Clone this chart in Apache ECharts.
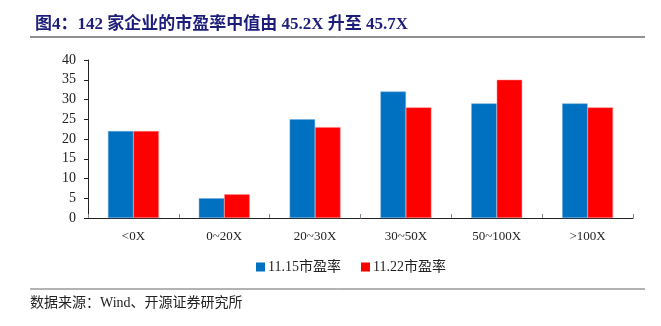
<!DOCTYPE html>
<html>
<head>
<meta charset="utf-8">
<script src="https://cdn.jsdelivr.net/npm/echarts@6/dist/echarts.min.js"></script>
<style>
  html, body { margin: 0; padding: 0; background: #fff; }
  #chart { width: 661px; height: 326px; }
</style>
</head>
<body>
<div id="chart"></div>
<script>
// P/E bucket categories and company counts for the two dates
const categories = ['<0X', '0~20X', '20~30X', '30~50X', '50~100X', '>100X'];
const pe1115 = [22, 5, 25, 32, 29, 29];
const pe1122 = [22, 6, 23, 28, 35, 28];
const seriesNames = ['11.15市盈率', '11.22市盈率'];
const yTicks = [0, 5, 10, 15, 20, 25, 30, 35, 40];

const serif = '"Liberation Serif", "Noto Sans CJK SC", serif';
const chart = echarts.init(document.getElementById('chart'));

chart.setOption({
  animation: false,
  backgroundColor: '#fff',
  title: {
    text: '图4：142 家企业的市盈率中值由 45.2X 升至 45.7X',
    left: 30, top: 11,
    textStyle: { fontFamily: serif, fontSize: 17, fontWeight: 'bold', color: '#1d1d7a' }
  },
  graphic: [
    { type: 'line', shape: { x1: 30, y1: 37, x2: 645, y2: 37 }, style: { stroke: '#222', lineWidth: 1 } },
    { type: 'line', shape: { x1: 30, y1: 289, x2: 645, y2: 289 }, style: { stroke: '#666', lineWidth: 1 } },
    { type: 'text', left: 30, top: 296,
      style: { text: '数据来源：Wind、开源证券研究所', fontFamily: serif, fontSize: 14, fill: '#222' } }
  ],
  legend: {
    data: seriesNames,
    top: 255, left: 251,
    itemWidth: 9, itemHeight: 9, itemGap: 20,
    icon: 'rect',
    itemStyle: { borderWidth: 0 },
    textStyle: { fontFamily: serif, fontSize: 14, color: '#222', padding: [0, 0, 0, -2] }
  },
  grid: { left: 88, right: 28, top: 60, bottom: 108, containLabel: false },
  xAxis: {
    type: 'category',
    data: categories,
    axisLine: { lineStyle: { color: '#222', width: 1 } },
    axisTick: { show: true, inside: true, alignWithLabel: false, length: 4, lineStyle: { color: '#888' } },
    axisLabel: { fontFamily: serif, fontSize: 13, color: '#222', margin: 12 }
  },
  yAxis: {
    type: 'value',
    min: yTicks[0], max: yTicks[yTicks.length - 1], interval: 5,
    axisLine: { show: true, lineStyle: { color: '#222', width: 1 } },
    axisTick: { show: true, length: 4, inside: false, lineStyle: { color: '#222' } },
    splitLine: { show: false },
    axisLabel: { fontFamily: serif, fontSize: 14, color: '#222', margin: 12 }
  },
  series: [
    { name: seriesNames[0], type: 'bar', data: pe1115, barGap: '0%', barCategoryGap: '44%',
      itemStyle: { color: '#0070c0', borderColor: '#6aa8e0', borderWidth: 0.5 } },
    { name: seriesNames[1], type: 'bar', data: pe1122,
      itemStyle: { color: '#ff0000', borderColor: '#ff8080', borderWidth: 0.5 } }
  ]
});
</script>
</body>
</html>
